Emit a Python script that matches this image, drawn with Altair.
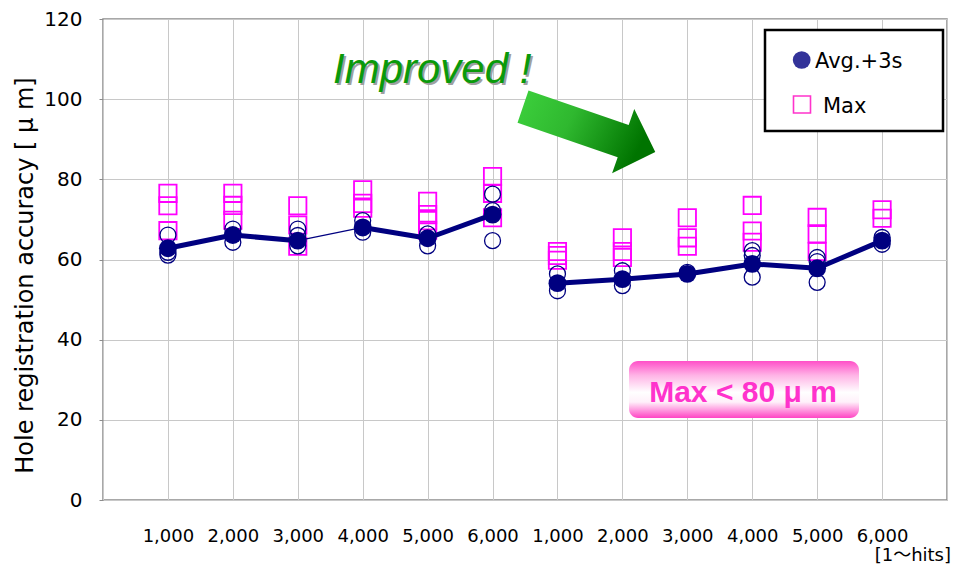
import json
import altair as alt
import pandas as pd

# ---------------- data ----------------
hit_labels = ["1,000", "2,000", "3,000", "4,000", "5,000", "6,000",
              "1,000", "2,000", "3,000", "4,000", "5,000", "6,000"]
avg_3s = [62.8, 66.1, 64.7, 68.0, 65.3, 71.2, 54.1, 55.1, 56.4, 58.9, 57.8, 64.7]
other_runs = [
    [66.1, 61.8, 61.1],
    [67.6, 64.3],
    [67.6, 66.0, 63.4],
    [69.7, 66.8],
    [66.4, 63.4],
    [76.3, 72.2, 64.7],
    [56.4, 52.2],
    [57.2, 53.5],
    [56.8],
    [62.2, 61.0, 55.6],
    [60.5, 59.5, 54.3],
    [65.5, 63.8],
]
max_values = [
    [76.5, 73.4, 67.2],
    [76.5, 73.5, 69.8],
    [73.4, 68.6, 63.3],
    [77.4, 74.0, 72.8],
    [74.5, 71.2, 69.7, 67.3],
    [80.7, 76.5, 70.4],
    [62.0, 61.0, 59.8],
    [65.4, 62.0, 60.5],
    [70.4, 65.4, 63.3],
    [73.5, 67.1, 64.3],
    [70.5, 66.4, 62.0],
    [72.4, 70.3],
]
y_ticks = [0, 20, 40, 60, 80, 100, 120]
group_size = 6

# ---------------- tables ----------------
n = len(hit_labels)
avg_df = pd.DataFrame({"pos": list(range(1, n + 1)), "value": avg_3s})
other_df = pd.DataFrame([{"pos": i + 1, "value": v}
                         for i, vals in enumerate(other_runs) for v in vals])
max_df = pd.DataFrame([{"pos": i + 1, "value": v}
                       for i, vals in enumerate(max_values) for v in vals])
thin_links = {2}
seg_rows = []
for i in range(n - 1):
    if (i + 1) % group_size == 0:
        continue
    seg_rows.append({"pos": i + 1, "value": avg_3s[i], "pos2": i + 2,
                     "value2": avg_3s[i + 1], "thin": i in thin_links})
seg_df = pd.DataFrame(seg_rows)
one = pd.DataFrame({"k": [0]})

W, H = 844, 481
NAVY = "#000080"
MAG = "#ff00ff"
FONT = "DejaVu Sans, Noto Sans CJK JP"

label_arr = json.dumps([""] + hit_labels + [""])
x_enc = alt.X("pos:Q", scale=alt.Scale(domain=[0, n + 1], nice=False, zero=False),
              axis=alt.Axis(values=list(range(n + 2)), labelExpr=f"{label_arr}[datum.value]",
                            title=None, grid=True, ticks=False, tickSize=0, domain=False,
                            labelFont=FONT, labelFontSize=18, labelColor="#000",
                            labelPadding=27, labelFlush=False, labelOverlap=False))
y_enc = alt.Y("value:Q", scale=alt.Scale(domain=[0, 120], nice=False),
              axis=alt.Axis(values=y_ticks, title="Hole registration accuracy [ μ m]",
                            titleFont=FONT, titleFontSize=24, titleFontWeight="normal",
                            titleColor="#000", titleX=-71, titleY=256, titleAngle=-90,
                            titleBaseline="alphabetic", titleAlign="center",
                            grid=True, domain=False, ticks=True, tickSize=4,
                            tickColor="#8c8c8c", labelFont=FONT, labelFontSize=20,
                            labelColor="#000", labelPadding=17))

squares = alt.Chart(max_df).mark_point(shape="square", filled=False, size=300,
                                       stroke=MAG, strokeWidth=1.8, opacity=1).encode(x=x_enc, y=y_enc)
opens = alt.Chart(other_df).mark_point(shape="circle", filled=False, size=254,
                                       stroke=NAVY, strokeWidth=1.3, opacity=1).encode(x=x_enc, y=y_enc)
thick = alt.Chart(seg_df).transform_filter("!datum.thin").mark_rule(
    color=NAVY, strokeWidth=5).encode(x=x_enc, y=y_enc, x2="pos2:Q", y2="value2:Q")
thin = alt.Chart(seg_df).transform_filter("datum.thin").mark_rule(
    color=NAVY, strokeWidth=1.2).encode(x=x_enc, y=y_enc, x2="pos2:Q", y2="value2:Q")
filled = alt.Chart(avg_df).mark_circle(size=320, color=NAVY, opacity=1).encode(x=x_enc, y=y_enc)

# ---------------- annotations ----------------
legend_box = alt.Chart(one).mark_rect(fill="white", stroke="black", strokeWidth=2.5).encode(
    x=alt.value(662), x2=alt.value(840), y=alt.value(11), y2=alt.value(112))
legend_dot = alt.Chart(one).mark_point(shape="circle", filled=True, size=314,
                                       color="#333399", opacity=1).encode(
    x=alt.value(698.7), y=alt.value(41))
legend_sq = alt.Chart(one).mark_point(shape="square", filled=False, size=289,
                                      stroke="#ff33cc", strokeWidth=1.6, opacity=1).encode(
    x=alt.value(699), y=alt.value(85.5))
legend_t1 = alt.Chart(one).mark_text(text="Avg.+3s", font=FONT, fontSize=21, align="left",
                                     baseline="alphabetic", color="#000").encode(
    x=alt.value(712), y=alt.value(49))
legend_t2 = alt.Chart(one).mark_text(text="Max", font=FONT, fontSize=21, align="left",
                                     baseline="alphabetic", color="#000").encode(
    x=alt.value(720), y=alt.value(94))

pink_grad = alt.LinearGradient(gradient="linear", x1=0, y1=0, x2=0, y2=1, stops=[
    alt.GradientStop(offset=0, color="#ff4fc8"),
    alt.GradientStop(offset=0.25, color="#ffb3e6"),
    alt.GradientStop(offset=0.55, color="#ffffff"),
    alt.GradientStop(offset=0.72, color="#fff0fa"),
    alt.GradientStop(offset=1, color="#ff44c4"),
])
max_box = alt.Chart(one).mark_rect(fill=pink_grad, cornerRadius=9).encode(
    x=alt.value(526), x2=alt.value(756), y=alt.value(342), y2=alt.value(399))
max_text = alt.Chart(one).mark_text(text="Max < 80 μ m", font="Liberation Sans, Noto Sans CJK JP",
                                    fontSize=30, fontWeight="bold", color="#ff33cc",
                                    align="center", baseline="alphabetic").encode(
    x=alt.value(640), y=alt.value(383))

improved_shadow = alt.Chart(one).mark_text(text="Improved !", font="Liberation Sans", fontSize=42,
                                           fontStyle="italic", color="#a0a0a0", align="left",
                                           baseline="alphabetic").encode(
    x=alt.value(232), y=alt.value(66))
improved = alt.Chart(one).mark_text(text="Improved !", font="Liberation Sans", fontSize=42,
                                    fontStyle="italic", color="#0a9a0a", align="left",
                                    baseline="alphabetic").encode(
    x=alt.value(230), y=alt.value(64))

arrow_path = ("M -0.827 -0.591 L 0.604 -0.097 L 0.684 -0.326 L 0.984 0.290 "
              "L 0.367 0.591 L 0.447 0.363 L -0.984 -0.131 Z")
green_grad = alt.LinearGradient(gradient="linear", x1=0, y1=0, x2=1, y2=0.3, stops=[
    alt.GradientStop(offset=0, color="#3dd13d"),
    alt.GradientStop(offset=0.45, color="#2fb82f"),
    alt.GradientStop(offset=1, color="#007400"),
])
arrow = alt.Chart(one).mark_point(shape=arrow_path, filled=True, fill=green_grad,
                                  size=19600, strokeWidth=0, opacity=1).encode(
    x=alt.value(483.4), y=alt.value(112.8))

unit_text = alt.Chart(one).mark_text(text="[1〜hits]", font=FONT, fontSize=18, color="#000",
                                     align="right", baseline="alphabetic").encode(
    x=alt.value(848), y=alt.value(542))

chart = alt.layer(
    squares, opens, thick, thin, filled,
    legend_box, legend_dot, legend_sq, legend_t1, legend_t2,
    max_box, max_text, improved_shadow, improved, arrow, unit_text,
).properties(
    width=W, height=H,
    autosize=alt.AutoSizeParams(type="none"),
    padding={"left": 95, "top": 11, "right": 5, "bottom": 64},
).configure_view(
    stroke="#8c8c8c", strokeWidth=1.5
).configure_axis(
    gridColor="#c8c8c8", gridWidth=1
)

chart.save("out.html", embed_options={"renderer": "svg", "actions": False})
